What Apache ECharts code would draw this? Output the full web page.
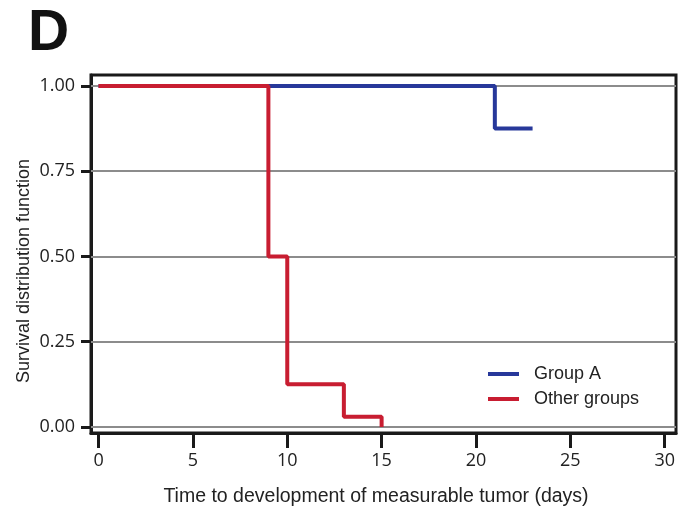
<!DOCTYPE html>
<html>
<head>
<meta charset="utf-8">
<script src="https://cdn.jsdelivr.net/npm/echarts@6/dist/echarts.min.js"></script>
<style>
  html, body { margin: 0; padding: 0; background: #fff; }
  #chart { width: 694px; height: 514px; }
</style>
</head>
<body>
<div id="chart"></div>
<script>
// Kaplan-Meier step points (day, survival)
const groupADays = [0, 21, 23];
const groupASurv = [1, 0.875, 0.875];
const otherDays = [0, 9, 10, 13, 15];
const otherSurv = [1, 0.5, 0.125, 0.03, 0];

const xTicks = [0, 5, 10, 15, 20, 25, 30];
const yTicks = [0, 0.25, 0.5, 0.75, 1];

const seriesNames = ['Group A', 'Other groups'];

var chart = echarts.init(document.getElementById('chart'));

function pairs(xs, ys) {
    return xs.map(function (x, i) { return [x, ys[i]]; });
}

var labelFont = { fontFamily: 'Open Sans', fontSize: 18, color: '#222' };

var option = {
    animation: false,
    grid: {
        left: 91, right: 18, top: 75, bottom: 81,
        show: true,
        borderColor: '#1a1a1a',
        borderWidth: 3,
        backgroundColor: '#fff'
    },
    legend: {
        orient: 'vertical',
        left: 483,
        top: 360,
        itemWidth: 31,
        itemHeight: 4,
        itemGap: 7,
        icon: 'rect',
        data: seriesNames,
        textStyle: {
            fontFamily: 'Liberation Sans',
            fontSize: 18,
            color: '#222',
            padding: [0, 0, 0, 10]
        }
    },
    xAxis: {
        type: 'value',
        min: -0.4,
        max: 30.6,
        axisLine: { show: true, onZero: false, lineStyle: { color: '#1a1a1a', width: 3 } },
        axisTick: {
            show: true,
            customValues: xTicks,
            length: 15,
            lineStyle: { color: '#1a1a1a', width: 3 }
        },
        axisLabel: Object.assign({ customValues: xTicks, margin: 19 }, labelFont),
        splitLine: { show: false }
    },
    yAxis: {
        type: 'value',
        min: -0.0176,
        max: 1.032,
        axisLine: { show: true, onZero: false, lineStyle: { color: '#1a1a1a', width: 3 } },
        axisTick: {
            show: true,
            customValues: yTicks,
            length: 10,
            lineStyle: { color: '#1a1a1a', width: 3 }
        },
        axisLabel: Object.assign({
            customValues: yTicks,
            margin: 16,
            formatter: function (v) { return v.toFixed(2); }
        }, labelFont),
        splitLine: { show: false }
    },
    series: [
        {
            name: 'Group A',
            type: 'line',
            step: 'end',
            symbol: 'none',
            color: '#27389a',
            lineStyle: { width: 4, color: '#27389a' },
            data: pairs(groupADays, groupASurv),
            z: 3,
            markLine: {
                silent: true,
                symbol: 'none',
                label: { show: false },
                lineStyle: { color: '#8c8c8c', width: 2, type: 'solid' },
                data: yTicks.map(function (v) { return { yAxis: v }; }),
                z: 1
            }
        },
        {
            name: 'Other groups',
            type: 'line',
            step: 'end',
            symbol: 'none',
            color: '#c81d31',
            lineStyle: { width: 4, color: '#c81d31' },
            data: pairs(otherDays, otherSurv),
            z: 4
        }
    ],
    graphic: [
        {
            type: 'text', left: 28, top: 6,
            style: { text: 'D', font: 'bold 57px "Liberation Sans"', fill: '#111' }
        },
        {
            type: 'text', x: 24, y: 271, rotation: Math.PI / 2,
            style: {
                text: 'Survival distribution function',
                font: '18px "Liberation Sans"', fill: '#222',
                textAlign: 'center', textVerticalAlign: 'middle'
            }
        },
        {
            type: 'text', x: 376, y: 497,
            style: {
                text: 'Time to development of measurable tumor (days)',
                font: '19.5px "Liberation Sans"', fill: '#222',
                textAlign: 'center', textVerticalAlign: 'middle'
            }
        }
    ]
};

chart.setOption(option);
</script>
</body>
</html>
